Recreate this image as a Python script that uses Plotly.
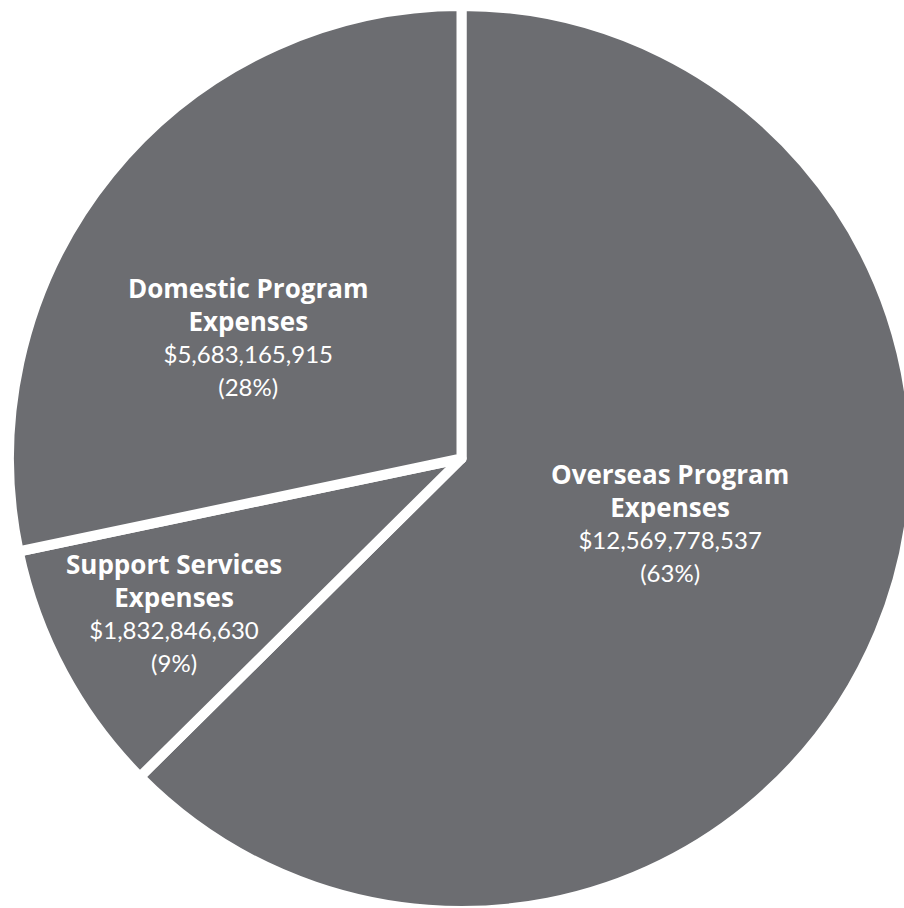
import plotly.graph_objects as go

# expense categories and amounts (USD)
labels = ["Overseas Program", "Support Services", "Domestic Program"]
values = [12569778537, 1832846630, 5683165915]
slice_color = "#6c6d71"

# label block centres, in pixels of the 923x911 figure
label_px = [(670, 521), (174, 611), (248, 335)]

W, H = 923, 911
total = sum(values)

fig = go.Figure()

fig.add_trace(go.Pie(
    labels=labels,
    values=values,
    sort=False,
    direction="clockwise",
    rotation=0,
    marker=dict(colors=[slice_color] * len(values), line=dict(color="white", width=10)),
    textinfo="none",
    domain=dict(x=[0, 1], y=[0, 0.9934]),
    hoverinfo="skip",
    showlegend=False,
))

bold = "<span style='font-family:\"Open Sans\";font-weight:bold;font-size:26px'>{}</span>"
plain = "<span style='font-size:24px'>{}</span>"
for lab, val, (px, py) in zip(labels, values, label_px):
    pct = round(100 * val / total)
    txt = "<br>".join([bold.format(lab), bold.format("Expenses"),
                       plain.format("${:,}".format(val)), plain.format("({}%)".format(pct))])
    fig.add_annotation(
        x=px / W, y=1 - py / H, xref="paper", yref="paper",
        text=txt, showarrow=False, align="center",
        xanchor="center", yanchor="middle",
        font=dict(family="Lato", size=25, color="white"),
    )

fig.update_layout(
    width=W, height=H,
    margin=dict(l=0, r=0, t=0, b=0),
    paper_bgcolor="white",
    plot_bgcolor="white",
)

fig.write_html("out.html", config={"displayModeBar": False},
               post_script="document.body.style.margin='0';document.body.style.overflow='hidden';")
